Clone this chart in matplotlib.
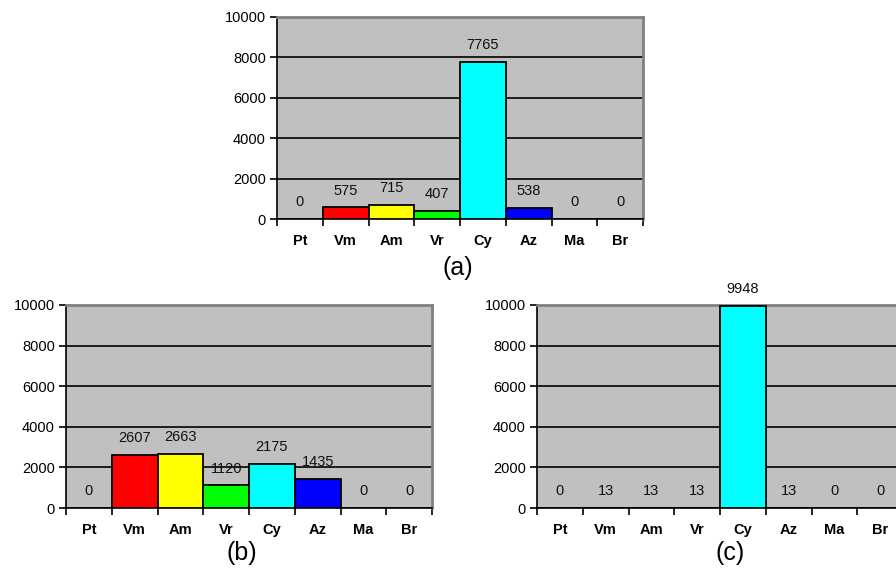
import matplotlib
matplotlib.use("Agg")
import matplotlib.pyplot as plt
import numpy as np

plt.rcParams['font.family'] = ['Liberation Sans', 'DejaVu Sans']

categories = ["Pt", "Vm", "Am", "Vr", "Cy", "Az", "Ma", "Br"]
colors = ["#ffffff", "#ff0000", "#ffff00", "#00ff00", "#00ffff", "#0000ff", "#ffffff", "#ffffff"]

counts_a = [0, 575, 715, 407, 7765, 538, 0, 0]
counts_b = [0, 2607, 2663, 1120, 2175, 1435, 0, 0]
counts_c = [0, 13, 13, 13, 9948, 13, 0, 0]

W, H = 896, 572
fig = plt.figure(figsize=(W / 100, H / 100), dpi=100)
fig.patch.set_facecolor("white")


def px_axes(left, top, right, bottom):
    return fig.add_axes([left / W, 1 - bottom / H, (right - left) / W, (bottom - top) / H])


def draw_panel(ax, values, caption, cap_xy):
    x = np.arange(len(categories))
    ax.set_facecolor("#c0c0c0")
    for xi, v, c in zip(x, values, colors):
        if v > 0:
            ax.bar(xi, v, width=1.0, color=c, edgecolor="black", linewidth=1.3, zorder=3)
        ax.annotate(str(v), (xi, v), xytext=(0, 12), textcoords="offset points",
                    ha="center", va="center", fontsize=10.5, color="#111111", zorder=4)
    ax.set_xlim(-0.5, len(categories) - 0.5)
    ax.set_ylim(0, 10000)
    ax.set_yticks(range(0, 10001, 2000))
    ax.yaxis.grid(True, color="black", linewidth=1.2, zorder=1)
    ax.set_axisbelow(True)
    ax.set_xticks(x)
    ax.set_xticklabels(categories, fontweight="bold", fontsize=10.5)
    ax.set_xticks(np.arange(-0.5, len(categories)), minor=True)
    ax.tick_params(axis="x", which="major", length=0, pad=11)
    ax.tick_params(axis="x", which="minor", length=5, width=1.2, direction="out")
    ax.tick_params(axis="y", length=5, width=1.2, labelsize=10.5, pad=3)
    for s in ["top", "right"]:
        ax.spines[s].set_color("#808080")
        ax.spines[s].set_linewidth(2)
    for s in ["left", "bottom"]:
        ax.spines[s].set_color("black")
        ax.spines[s].set_linewidth(1.2)
    fig.text(cap_xy[0] / W, 1 - cap_xy[1] / H, caption, ha="center", va="center", fontsize=18)


ax_a = px_axes(277, 17, 643, 219)
draw_panel(ax_a, counts_a, "(a)", (458, 268))

ax_b = px_axes(66, 305, 432, 508)
draw_panel(ax_b, counts_b, "(b)", (242, 553))

ax_c = px_axes(537, 305, 903, 508)
draw_panel(ax_c, counts_c, "(c)", (730, 553))

fig.savefig("out.png", dpi=100)
